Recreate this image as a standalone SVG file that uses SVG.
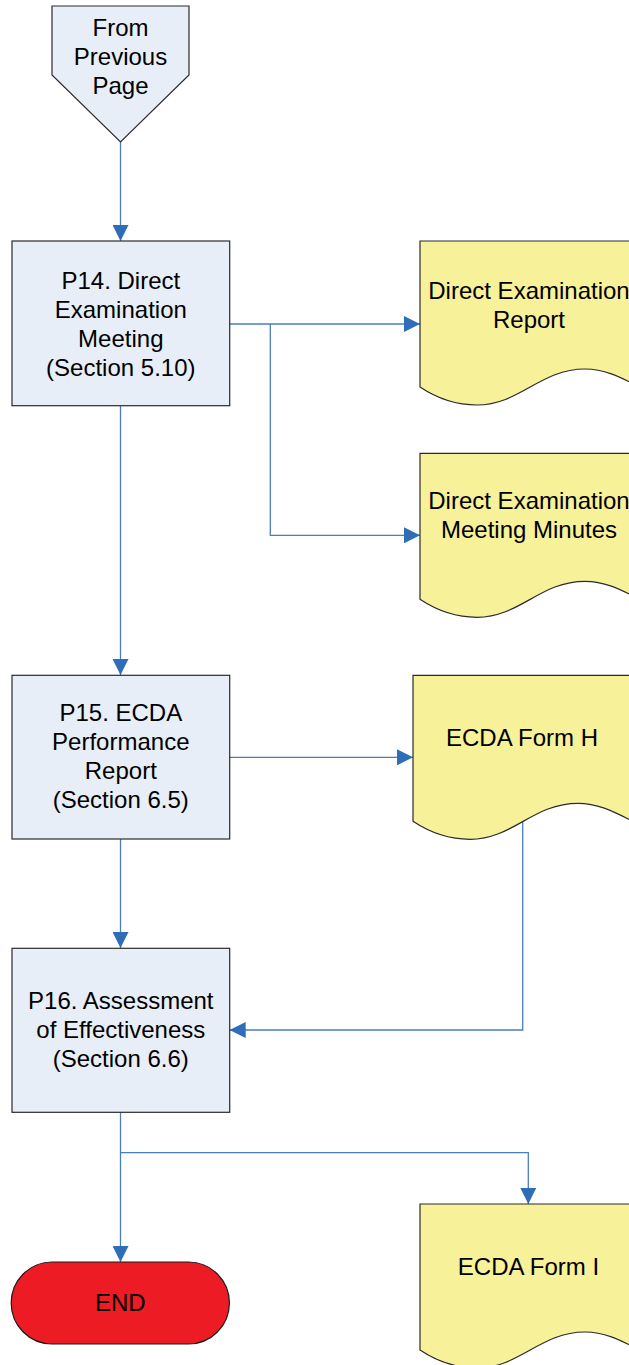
<svg xmlns="http://www.w3.org/2000/svg" width="629" height="1365" viewBox="0 0 629 1365">
<style>
.proc{fill:#E8EEF7;stroke:#2b2b2b;stroke-width:1.2}
.doc{fill:#F7F19A;stroke:#2b2b2b;stroke-width:1.2}
.term{fill:#ED1C24;stroke:#1a1a1a;stroke-width:1.2}
.t{font-family:"Liberation Sans",Arial,sans-serif;font-size:24px;fill:#000;text-anchor:middle}
.c{fill:none;stroke:#4A7EBB;stroke-width:1.3;marker-end:url(#ah)}
</style>
<defs>
<marker id="ah" markerUnits="userSpaceOnUse" markerWidth="16" markerHeight="16" refX="16" refY="8" orient="auto" viewBox="0 0 16 16">
<path d="M0,0 L16,8 L0,16 Z" fill="#2F6DB9"/>
</marker>
<path id="docshape" d="M0,0 H220 V146 C200,136 185,128 165,128 C120,128 100,164 57,164 C35,164 15,156 0,146 Z"/>
</defs>

<rect width="629" height="1365" fill="#fff"/>

<g id="connectors">
<path class="c" d="M120.5,142 V241"/>
<path class="c" d="M120.5,406 V675"/>
<path class="c" d="M229.7,324 H420"/>
<path class="c" d="M270.3,324 V535.3 H420"/>
<path class="c" d="M229.7,757.3 H413"/>
<path class="c" d="M120.5,839 V948"/>
<path class="c" d="M522.7,821 V1030 H229.7"/>
<path class="c" d="M120.5,1112 V1262"/>
<path class="c" d="M120.5,1152.7 H528.3 V1204"/>
</g>

<g id="from-prev">
<path class="proc" d="M52,6 H189 V75 L120.5,142 L52,75 Z"/>
<text class="t" x="120.5" y="35.7">From</text>
<text class="t" x="120.5" y="64.7">Previous</text>
<text class="t" x="120.5" y="93.7">Page</text>
</g>

<g id="p14">
<rect class="proc" x="12" y="241" width="217.7" height="164.7"/>
<text class="t" x="120.8" y="289.3">P14. Direct</text>
<text class="t" x="120.8" y="318.3">Examination</text>
<text class="t" x="120.8" y="347.3">Meeting</text>
<text class="t" x="120.8" y="376.3">(Section 5.10)</text>
</g>

<g id="doc-report">
<use href="#docshape" class="doc" x="420" y="241"/>
<text class="t" x="529" y="299">Direct Examination</text>
<text class="t" x="529" y="328.3">Report</text>
</g>

<g id="doc-minutes">
<use href="#docshape" class="doc" x="420" y="453.3"/>
<text class="t" x="529" y="509">Direct Examination</text>
<text class="t" x="529" y="538">Meeting Minutes</text>
</g>

<g id="p15">
<rect class="proc" x="12" y="675.3" width="217.7" height="163.7"/>
<text class="t" x="120.8" y="721">P15. ECDA</text>
<text class="t" x="120.8" y="750">Performance</text>
<text class="t" x="120.8" y="779">Report</text>
<text class="t" x="120.8" y="807.7">(Section 6.5)</text>
</g>

<g id="doc-form-h">
<use href="#docshape" class="doc" x="413" y="675.3"/>
<text class="t" x="522" y="746">ECDA Form H</text>
</g>

<g id="p16">
<rect class="proc" x="12" y="948.3" width="217.7" height="164"/>
<text class="t" x="120.8" y="1009">P16. Assessment</text>
<text class="t" x="120.8" y="1037.7">of Effectiveness</text>
<text class="t" x="120.8" y="1066.7">(Section 6.6)</text>
</g>

<g id="end">
<rect class="term" x="11.2" y="1262" width="218.2" height="82" rx="41" ry="41"/>
<text class="t" x="120.3" y="1311">END</text>
</g>

<g id="doc-form-i">
<use href="#docshape" class="doc" x="420" y="1204"/>
<text class="t" x="528.5" y="1275">ECDA Form I</text>
</g>
</svg>
